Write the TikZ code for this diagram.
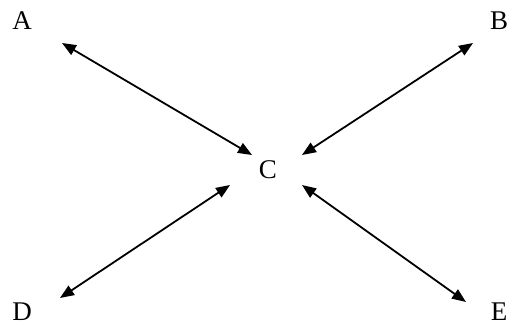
\documentclass[tikz,border=0pt]{standalone}
\usepackage{fontspec}
\setmainfont{Liberation Serif}
\usetikzlibrary{arrows.meta}
\begin{document}
\begin{tikzpicture}[x=1pt,y=-1pt,
  lbl/.style={font=\fontsize{27}{27}\selectfont,inner sep=0pt},
  link/.style={line width=1.8pt,{Triangle[length=14pt,width=11pt]}-{Triangle[length=14pt,width=11pt]}}]
\useasboundingbox (0,0) rectangle (508,329);
\node[lbl] (A) at (22,21) {A};
\node[lbl] (B) at (499,21) {B};
\node[lbl] (C) at (268,170) {C};
\node[lbl] (D) at (22,312) {D};
\node[lbl] (E) at (499,312) {E};
\coordinate (a1) at (62,43);
\coordinate (a2) at (252,155);
\coordinate (b1) at (473,43);
\coordinate (b2) at (302,155);
\coordinate (d1) at (60,298);
\coordinate (d2) at (230,185);
\coordinate (e1) at (466,302);
\coordinate (e2) at (302,185);
\draw[link] (a1) -- (a2);
\draw[link] (b1) -- (b2);
\draw[link] (d1) -- (d2);
\draw[link] (e1) -- (e2);
\end{tikzpicture}
\end{document}
